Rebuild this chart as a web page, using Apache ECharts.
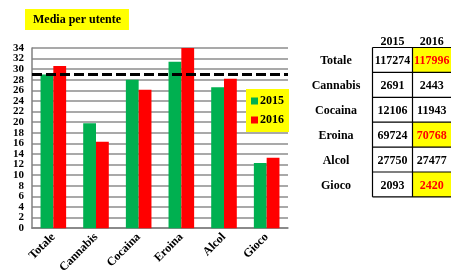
<!DOCTYPE html>
<html>
<head>
<meta charset="utf-8">
<script src="https://cdn.jsdelivr.net/npm/echarts@6/dist/echarts.min.js"></script>
<style>
  html, body { margin: 0; padding: 0; background: #fff; }
  #main { width: 451px; height: 276px; }
</style>
</head>
<body>
<div id="main"></div>
<script>
var categories = ['Totale', 'Cannabis', 'Cocaina', 'Eroina', 'Alcol', 'Gioco'];
var media2015 = [29.0, 19.8, 28.0, 31.4, 26.6, 12.3];
var media2016 = [30.6, 16.3, 26.1, 34.0, 28.2, 13.3];
var mediaRef = 29.1;
var utenti2015 = [117274, 2691, 12106, 69724, 27750, 2093];
var utenti2016 = [117996, 2443, 11943, 70768, 27477, 2420];
var years = ['2015', '2016'];
var yMin = 0, yMax = 34, yStep = 2;

var serif = '"Liberation Serif", "Times New Roman", serif';
var chart = echarts.init(document.getElementById('main'));

// tabella a destra
var tab = { labelX: 336, c1: 372.5, c2: 412.5, c3: 451, top: 47.5, rowH: 24.9, headY: 41.5 };
var g = [];
years.forEach(function (y, i) {
  g.push({ type: 'text', x: i === 0 ? (tab.c1 + tab.c2) / 2 : (tab.c2 + tab.c3) / 2, y: tab.headY,
    style: { text: y, font: 'bold 12px ' + serif, fill: '#000', align: 'center', verticalAlign: 'middle' } });
});
categories.forEach(function (c, i) {
  var y0 = tab.top + i * tab.rowH;
  var cy = y0 + tab.rowH / 2 + 1;
  var up = utenti2016[i] > utenti2015[i];
  if (up) {
    g.push({ type: 'rect', shape: { x: tab.c2, y: y0, width: tab.c3 - tab.c2, height: tab.rowH },
      style: { fill: '#ffff00' } });
  }
  g.push({ type: 'text', x: tab.labelX, y: cy,
    style: { text: c, font: 'bold 12px ' + serif, fill: '#000', align: 'center', verticalAlign: 'middle' } });
  g.push({ type: 'text', x: (tab.c1 + tab.c2) / 2, y: cy,
    style: { text: String(utenti2015[i]), font: 'bold 12px ' + serif, fill: '#000', align: 'center', verticalAlign: 'middle' } });
  g.push({ type: 'text', x: (tab.c2 + tab.c3) / 2, y: cy,
    style: { text: String(utenti2016[i]), font: 'bold 12px ' + serif, fill: up ? '#ff0000' : '#000', align: 'center', verticalAlign: 'middle' } });
});
var nRows = categories.length;
for (var r = 0; r <= nRows; r++) {
  var yy = tab.top + r * tab.rowH;
  g.push({ type: 'line', shape: { x1: tab.c1, y1: yy, x2: tab.c3, y2: yy }, style: { stroke: '#000', lineWidth: 1.2 } });
}
[tab.c1, tab.c2].forEach(function (x) {
  g.push({ type: 'line', shape: { x1: x, y1: tab.top, x2: x, y2: tab.top + nRows * tab.rowH }, style: { stroke: '#000', lineWidth: 1.2 } });
});

var yLabelStyle = { margin: 8, fontFamily: serif, fontWeight: 'bold', fontSize: 11, color: '#000' };

var option = {
  animation: false,
  backgroundColor: '#fff',
  title: {
    text: 'Media per utente',
    left: 25, top: 9,
    padding: [5, 8, 4, 8],
    backgroundColor: '#ffff00',
    textStyle: { fontFamily: serif, fontWeight: 'bold', fontSize: 12, color: '#000' }
  },
  legend: {
    orient: 'vertical',
    left: 246, top: 89,
    z: 10,
    backgroundColor: '#ffff00',
    padding: [6, 5, 6, 5],
    itemGap: 7,
    itemWidth: 7, itemHeight: 7,
    icon: 'rect',
    textStyle: { fontFamily: serif, fontWeight: 'bold', fontSize: 12, color: '#000', padding: [0, 0, 0, -3] },
    data: years
  },
  grid: { left: 32, right: 163, top: 48, bottom: 43, containLabel: false },
  xAxis: {
    type: 'category',
    data: categories,
    axisLine: { lineStyle: { color: '#808080', width: 1.5 } },
    axisTick: { length: 3, lineStyle: { color: '#808080' } },
    axisLabel: { interval: 0, rotate: 45, margin: 7, fontFamily: serif, fontWeight: 'bold', fontSize: 12, color: '#000' }
  },
  yAxis: [
    {
      type: 'value',
      min: yMin, max: yMax, interval: yStep,
      axisLine: { show: true, lineStyle: { color: '#808080', width: 1.5 } },
      axisTick: { show: false },
      splitLine: { lineStyle: { color: '#8c8c8c', width: 1.5 } },
      axisLabel: Object.assign({ showMinLabel: false, showMaxLabel: false }, yLabelStyle)
    },
    {
      // solo le etichette estreme (0 e 34)
      type: 'value', position: 'left',
      min: yMin, max: yMax, interval: yStep,
      axisLine: { show: false }, axisTick: { show: false }, splitLine: { show: false },
      axisLabel: Object.assign({
        showMinLabel: true, showMaxLabel: true,
        formatter: function (v) { return (v === yMin || v === yMax) ? String(v) : ''; }
      }, yLabelStyle)
    }
  ],
  series: [
    {
      name: '2015', type: 'bar', data: media2015,
      barGap: '0%', barCategoryGap: '40%',
      itemStyle: { color: '#00b050' },
      markLine: {
        symbol: 'none', silent: true, label: { show: false },
        lineStyle: { color: '#000', type: [10, 4], width: 3 },
        data: [{ yAxis: mediaRef }]
      }
    },
    {
      name: '2016', type: 'bar', data: media2016,
      itemStyle: { color: '#ff0000' }
    }
  ],
  graphic: g
};
chart.setOption(option);
</script>
</body>
</html>
